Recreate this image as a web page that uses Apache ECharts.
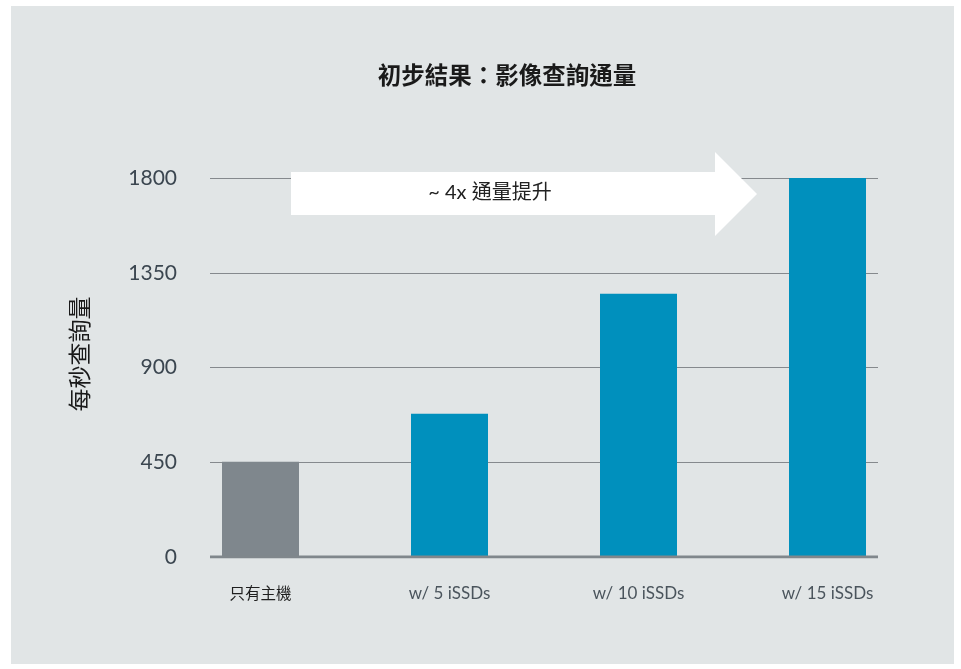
<!DOCTYPE html>
<html>
<head>
<meta charset="utf-8">
<script src="https://cdn.jsdelivr.net/npm/echarts@6/dist/echarts.min.js"></script>
<style>
html,body{margin:0;padding:0;background:#ffffff;}
#chart{width:961px;height:669px;}
</style>
</head>
<body>
<div id="chart"></div>
<script>
const categories = ['只有主機', 'w/ 5 iSSDs', 'w/ 10 iSSDs', 'w/ 15 iSSDs'];
const values = [452, 680, 1250, 1800];
const yTicks = [0, 450, 900, 1350, 1800];
const titleText = '初步結果：影像查詢通量';
const yName = '每秒查詢量';
const arrowText = '~ 4x 通量提升';

const chart = echarts.init(document.getElementById('chart'), null, {renderer: 'canvas'});

const barColors = ['#7f878d', '#0090bd', '#0090bd', '#0090bd'];

chart.setOption({
  backgroundColor: '#ffffff',
  animation: false,
  title: {
    text: titleText,
    left: 502, top: 58, textAlign: 'center',
    textStyle: {fontFamily: '"Noto Sans CJK TC", sans-serif', fontSize: 23.5, fontWeight: 'bold', color: '#1a1a1a'}
  },
  grid: [
    {left: 210, right: 83, top: 178, bottom: 112},
    {left: 166, right: 39, top: 178, bottom: 112}
  ],
  xAxis: [
    {type: 'value', gridIndex: 0, min: 0, max: 1, show: true,
     axisLine: {show: false}, axisTick: {show: false}, axisLabel: {show: false}, splitLine: {show: false}},
    {type: 'category', gridIndex: 1, data: categories,
     axisLine: {show: false}, axisTick: {show: false},
     axisLabel: {margin: 28, color: '#4a545c',
       formatter: (v, i) => i === 0 ? '{c|' + v + '}' : '{l|' + v + '}',
       rich: {
         c: {fontSize: 15.5, fontFamily: '"Noto Sans CJK TC", sans-serif', color: '#1f1f1f'},
         l: {fontSize: 17, fontFamily: '"Lato", sans-serif', color: '#4a545c'}
       }}}
  ],
  yAxis: [
    {type: 'value', gridIndex: 0, min: yTicks[0], max: yTicks[yTicks.length - 1], interval: 450,
     axisLine: {show: false}, axisTick: {show: false},
     axisLabel: {margin: 33, fontSize: 21, color: '#3b4650', fontFamily: '"Lato", sans-serif',
       formatter: v => String(v)},
     splitLine: {show: true, lineStyle: {color: '#85898d', width: 1}}},
    {type: 'value', gridIndex: 1, min: yTicks[0], max: yTicks[yTicks.length - 1], interval: 450, show: false,
     splitLine: {show: false}}
  ],
  series: [
    {
      type: 'bar', xAxisIndex: 1, yAxisIndex: 1, barWidth: 77, z: 2,
      data: values.map((v, i) => ({value: v, itemStyle: {color: barColors[i]}}))
    },
    {
      type: 'line', xAxisIndex: 0, yAxisIndex: 0, data: [[0, 0], [1, 0]], symbol: 'none', z: 5,
      lineStyle: {color: '#80878c', width: 3}, silent: true
    }
  ],
  graphic: [
    {type: 'rect', z: -10, shape: {x: 11, y: 6, width: 943, height: 658}, style: {fill: '#e1e5e6'}},
    {type: 'text', x: 79, y: 354, rotation: Math.PI / 2,
     style: {text: yName, fontSize: 23, fontFamily: '"Noto Sans CJK TC", sans-serif', fill: '#1a1a1a', align: 'center', verticalAlign: 'middle'}},
    {type: 'polygon', z: 10,
     shape: {points: [[291, 172], [715, 172], [715, 152], [757, 194], [715, 236], [715, 215], [291, 215]]},
     style: {fill: '#ffffff'}},
    {type: 'text', z: 11, x: 490, y: 193,
     style: {text: arrowText, fontSize: 20, fontFamily: '"Lato", "Noto Sans CJK TC", sans-serif', fill: '#222222', align: 'center', verticalAlign: 'middle'}}
  ]
});
</script>
</body>
</html>
